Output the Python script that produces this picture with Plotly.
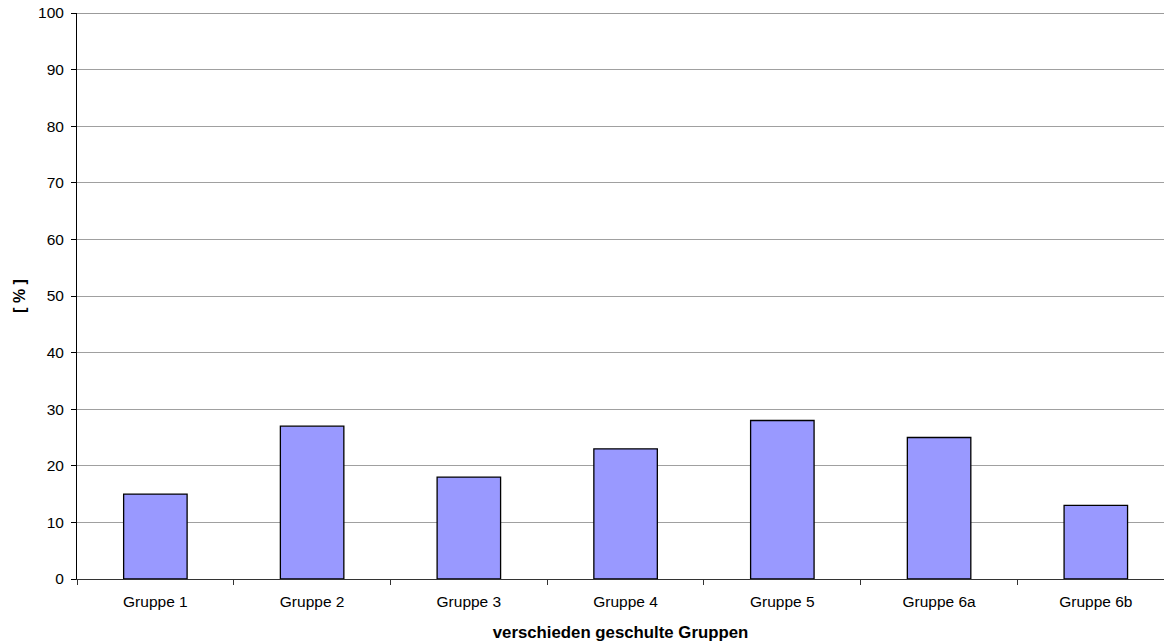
import plotly.graph_objects as go

# Anteil je Gruppe in Prozent
gruppen = ["Gruppe 1", "Gruppe 2", "Gruppe 3", "Gruppe 4", "Gruppe 5", "Gruppe 6a", "Gruppe 6b"]
anteil = [15, 27, 18, 23, 28, 25, 13]
y_ticks = [0, 10, 20, 30, 40, 50, 60, 70, 80, 90, 100]

font_family = "Liberation Sans, Arial, sans-serif"

fig = go.Figure(
    go.Bar(
        x=gruppen,
        y=anteil,
        marker=dict(color="#9999ff", line=dict(color="#000000", width=1.3)),
        width=0.405,
    )
)

fig.update_layout(
    width=1164,
    height=643,
    margin=dict(l=77, r=0, t=13, b=64),
    paper_bgcolor="white",
    plot_bgcolor="white",
    showlegend=False,
    font=dict(family=font_family, size=15.5, color="#000000"),
    xaxis=dict(
        type="category",
        range=[-0.5, 6.435],
        showline=True,
        linecolor="#333333",
        linewidth=1,
        ticks="outside",
        tickson="boundaries",
        ticklen=5,
        tickcolor="#333333",
        showgrid=False,
        tickfont=dict(size=15.5),
        ticklabelstandoff=8,
        title=dict(
            text="<b>verschieden geschulte Gruppen</b>",
            font=dict(size=16.8),
            standoff=17,
        ),
    ),
    yaxis=dict(
        range=[0, 100],
        tickvals=y_ticks,
        showline=True,
        linecolor="#000000",
        linewidth=1,
        ticks="outside",
        ticklen=5,
        tickcolor="#000000",
        showgrid=True,
        gridcolor="#a0a0a0",
        gridwidth=1,
        zeroline=False,
        tickfont=dict(size=15.5),
        ticklabelstandoff=4,
        title=dict(text="<b>[ % ]</b>", font=dict(size=16), standoff=8),
    ),
)

# darker upper frame line at 100 %
fig.add_shape(
    type="line", xref="paper", yref="y", x0=0, x1=1, y0=100, y1=100,
    line=dict(color="#7a7a7a", width=1.5),
)

fig.write_html("out.html")
